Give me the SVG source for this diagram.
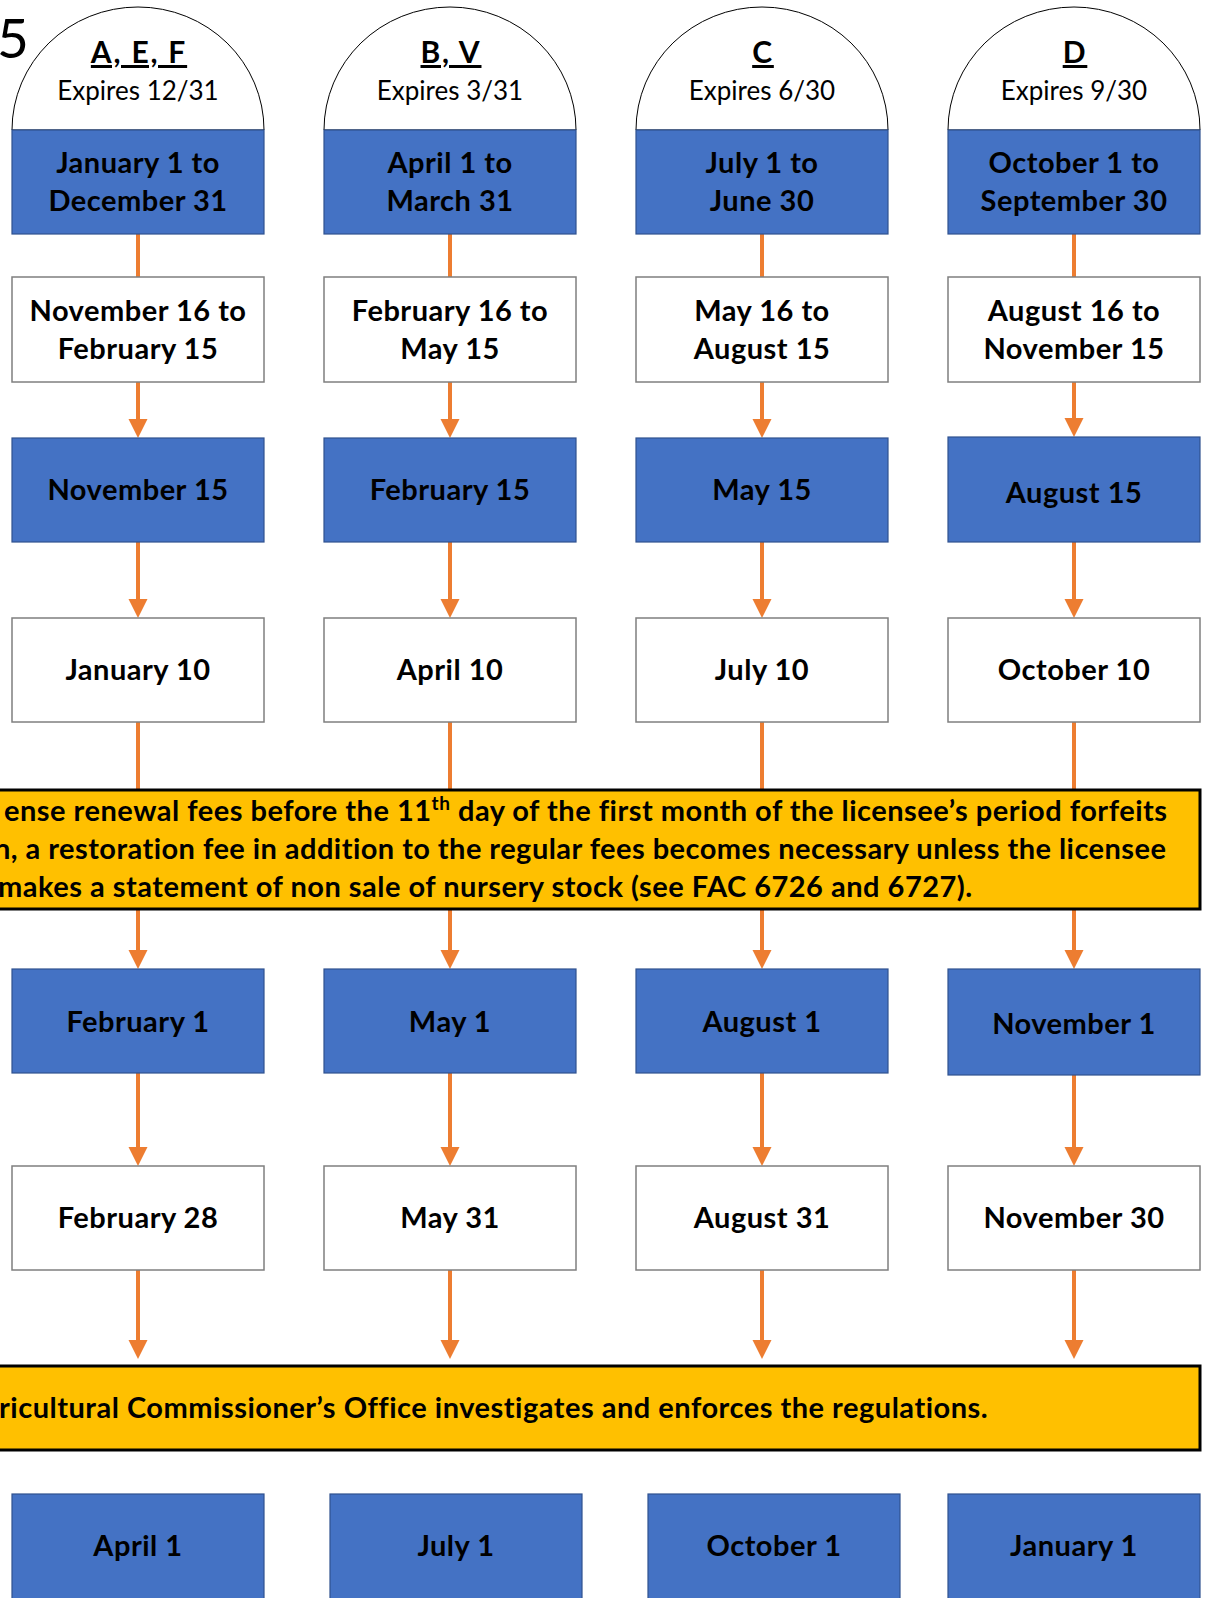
<svg xmlns="http://www.w3.org/2000/svg" width="1207" height="1598" viewBox="0 0 1207 1598">
<style>
text{font-family:Lato,"Liberation Sans",sans-serif;fill:#000}
.b{font-weight:bold;font-size:29px;letter-spacing:0.5px;text-anchor:middle}
.h{font-weight:bold;font-size:30px;letter-spacing:1.8px;text-anchor:middle;text-decoration:underline}
.r{font-size:26px;text-anchor:middle}
.y{font-weight:bold;font-size:29px;letter-spacing:0.5px}
.blue{fill:#4472C4;stroke:#2F528F;stroke-width:1.2}
.white{fill:#fff;stroke:#7F7F7F;stroke-width:1.5}
.dome{fill:#fff;stroke:#000;stroke-width:1}
.yel{fill:#FFC000;stroke:#000;stroke-width:3}
.c{stroke:#ED7D31;stroke-width:4;fill:none}
.a{marker-end:url(#ah)}
</style>
<defs>
<marker id="ah" markerUnits="userSpaceOnUse" markerWidth="20" markerHeight="20" refX="1" refY="9.5" orient="auto">
<path d="M0,0 L19,9.5 L0,19 Z" fill="#ED7D31"/>
</marker>
</defs>
<rect width="1207" height="1598" fill="#fff"/>
<text x="-3" y="58" style="font-size:55px">5</text>

<g id="connectors">
<g transform="translate(138,0)">
<line class="c" x1="0" y1="234" x2="0" y2="277"/>
<line class="c a" x1="0" y1="382" x2="0" y2="420"/>
<line class="c a" x1="0" y1="542" x2="0" y2="600"/>
<line class="c" x1="0" y1="722" x2="0" y2="790"/>
<line class="c a" x1="0" y1="909" x2="0" y2="951"/>
<line class="c a" x1="0" y1="1073" x2="0" y2="1148"/>
<line class="c a" x1="0" y1="1270" x2="0" y2="1341"/>
</g>
<g transform="translate(450,0)">
<line class="c" x1="0" y1="234" x2="0" y2="277"/>
<line class="c a" x1="0" y1="382" x2="0" y2="420"/>
<line class="c a" x1="0" y1="542" x2="0" y2="600"/>
<line class="c" x1="0" y1="722" x2="0" y2="790"/>
<line class="c a" x1="0" y1="909" x2="0" y2="951"/>
<line class="c a" x1="0" y1="1073" x2="0" y2="1148"/>
<line class="c a" x1="0" y1="1270" x2="0" y2="1341"/>
</g>
<g transform="translate(762,0)">
<line class="c" x1="0" y1="234" x2="0" y2="277"/>
<line class="c a" x1="0" y1="382" x2="0" y2="420"/>
<line class="c a" x1="0" y1="542" x2="0" y2="600"/>
<line class="c" x1="0" y1="722" x2="0" y2="790"/>
<line class="c a" x1="0" y1="909" x2="0" y2="951"/>
<line class="c a" x1="0" y1="1073" x2="0" y2="1148"/>
<line class="c a" x1="0" y1="1270" x2="0" y2="1341"/>
</g>
<g transform="translate(1074,0)">
<line class="c" x1="0" y1="234" x2="0" y2="277"/>
<line class="c a" x1="0" y1="382" x2="0" y2="419"/>
<line class="c a" x1="0" y1="542" x2="0" y2="600"/>
<line class="c" x1="0" y1="722" x2="0" y2="790"/>
<line class="c a" x1="0" y1="909" x2="0" y2="951"/>
<line class="c a" x1="0" y1="1075" x2="0" y2="1148"/>
<line class="c a" x1="0" y1="1270" x2="0" y2="1341"/>
</g>
</g>

<!-- Column 1 -->
<g id="head-aef">
<path class="dome" d="M12,130 A126,123 0 0 1 264,130 Z"/>
<text class="h" x="139" y="63">A, E, F</text>
<text class="r" x="138" y="100">Expires 12/31</text>
</g>
<g id="c1r1"><rect class="blue" x="12" y="130" width="252" height="104"/>
<text class="b" x="138" y="173">January 1 to</text><text class="b" x="138" y="211">December 31</text></g>
<g id="c1r2"><rect class="white" x="12" y="277" width="252" height="105"/>
<text class="b" x="138" y="321">November 16 to</text><text class="b" x="138" y="359">February 15</text></g>
<g id="c1r3"><rect class="blue" x="12" y="438" width="252" height="104"/>
<text class="b" x="138" y="500">November 15</text></g>
<g id="c1r4"><rect class="white" x="12" y="618" width="252" height="104"/>
<text class="b" x="138" y="680">January 10</text></g>
<g id="c1r5"><rect class="blue" x="12" y="969" width="252" height="104"/>
<text class="b" x="138" y="1032">February 1</text></g>
<g id="c1r6"><rect class="white" x="12" y="1166" width="252" height="104"/>
<text class="b" x="138" y="1228">February 28</text></g>
<g id="c1r7"><rect class="blue" x="12" y="1494" width="252" height="110"/>
<text class="b" x="138" y="1556">April 1</text></g>

<!-- Column 2 -->
<g id="head-bv">
<path class="dome" d="M324,130 A126,123 0 0 1 576,130 Z"/>
<text class="h" x="451" y="63">B, V</text>
<text class="r" x="450" y="100">Expires 3/31</text>
</g>
<g id="c2r1"><rect class="blue" x="324" y="130" width="252" height="104"/>
<text class="b" x="450" y="173">April 1 to</text><text class="b" x="450" y="211">March 31</text></g>
<g id="c2r2"><rect class="white" x="324" y="277" width="252" height="105"/>
<text class="b" x="450" y="321">February 16 to</text><text class="b" x="450" y="359">May 15</text></g>
<g id="c2r3"><rect class="blue" x="324" y="438" width="252" height="104"/>
<text class="b" x="450" y="500">February 15</text></g>
<g id="c2r4"><rect class="white" x="324" y="618" width="252" height="104"/>
<text class="b" x="450" y="680">April 10</text></g>
<g id="c2r5"><rect class="blue" x="324" y="969" width="252" height="104"/>
<text class="b" x="450" y="1032">May 1</text></g>
<g id="c2r6"><rect class="white" x="324" y="1166" width="252" height="104"/>
<text class="b" x="450" y="1228">May 31</text></g>
<g id="c2r7"><rect class="blue" x="330" y="1494" width="252" height="110"/>
<text class="b" x="456" y="1556">July 1</text></g>

<!-- Column 3 -->
<g id="head-c">
<path class="dome" d="M636,130 A126,123 0 0 1 888,130 Z"/>
<text class="h" x="763" y="63">C</text>
<text class="r" x="762" y="100">Expires 6/30</text>
</g>
<g id="c3r1"><rect class="blue" x="636" y="130" width="252" height="104"/>
<text class="b" x="762" y="173">July 1 to</text><text class="b" x="762" y="211">June 30</text></g>
<g id="c3r2"><rect class="white" x="636" y="277" width="252" height="105"/>
<text class="b" x="762" y="321">May 16 to</text><text class="b" x="762" y="359">August 15</text></g>
<g id="c3r3"><rect class="blue" x="636" y="438" width="252" height="104"/>
<text class="b" x="762" y="500">May 15</text></g>
<g id="c3r4"><rect class="white" x="636" y="618" width="252" height="104"/>
<text class="b" x="762" y="680">July 10</text></g>
<g id="c3r5"><rect class="blue" x="636" y="969" width="252" height="104"/>
<text class="b" x="762" y="1032">August 1</text></g>
<g id="c3r6"><rect class="white" x="636" y="1166" width="252" height="104"/>
<text class="b" x="762" y="1228">August 31</text></g>
<g id="c3r7"><rect class="blue" x="648" y="1494" width="252" height="110"/>
<text class="b" x="774" y="1556">October 1</text></g>

<!-- Column 4 -->
<g id="head-d">
<path class="dome" d="M948,130 A126,123 0 0 1 1200,130 Z"/>
<text class="h" x="1075" y="63">D</text>
<text class="r" x="1074" y="100">Expires 9/30</text>
</g>
<g id="c4r1"><rect class="blue" x="948" y="130" width="252" height="104"/>
<text class="b" x="1074" y="173">October 1 to</text><text class="b" x="1074" y="211">September 30</text></g>
<g id="c4r2"><rect class="white" x="948" y="277" width="252" height="105"/>
<text class="b" x="1074" y="321">August 16 to</text><text class="b" x="1074" y="359">November 15</text></g>
<g id="c4r3"><rect class="blue" x="948" y="437" width="252" height="105"/>
<text class="b" x="1074" y="503">August 15</text></g>
<g id="c4r4"><rect class="white" x="948" y="618" width="252" height="104"/>
<text class="b" x="1074" y="680">October 10</text></g>
<g id="c4r5"><rect class="blue" x="948" y="969" width="252" height="106"/>
<text class="b" x="1074" y="1034">November 1</text></g>
<g id="c4r6"><rect class="white" x="948" y="1166" width="252" height="104"/>
<text class="b" x="1074" y="1228">November 30</text></g>
<g id="c4r7"><rect class="blue" x="948" y="1494" width="252" height="110"/>
<text class="b" x="1074" y="1556">January 1</text></g>

<!-- Yellow notes -->
<g id="note-fees">
<rect class="yel" x="-10" y="790" width="1210" height="119"/>
<text class="y" x="4" y="821">ense renewal fees before the 11<tspan font-size="19" dy="-11">th</tspan><tspan dy="11"> day of the first month of the licensee’s period forfeits</tspan></text>
<text class="y" x="-6" y="859" style="letter-spacing:0.45px">n, a restoration fee in addition to the regular fees becomes necessary unless the licensee</text>
<text class="y" x="-2" y="897">makes a statement of non sale of nursery stock (see FAC 6726 and 6727).</text>
</g>
<g id="note-enforce">
<rect class="yel" x="-10" y="1366" width="1210" height="84"/>
<text class="y" x="-1" y="1418">ricultural Commissioner’s Office investigates and enforces the regulations.</text>
</g>
</svg>
